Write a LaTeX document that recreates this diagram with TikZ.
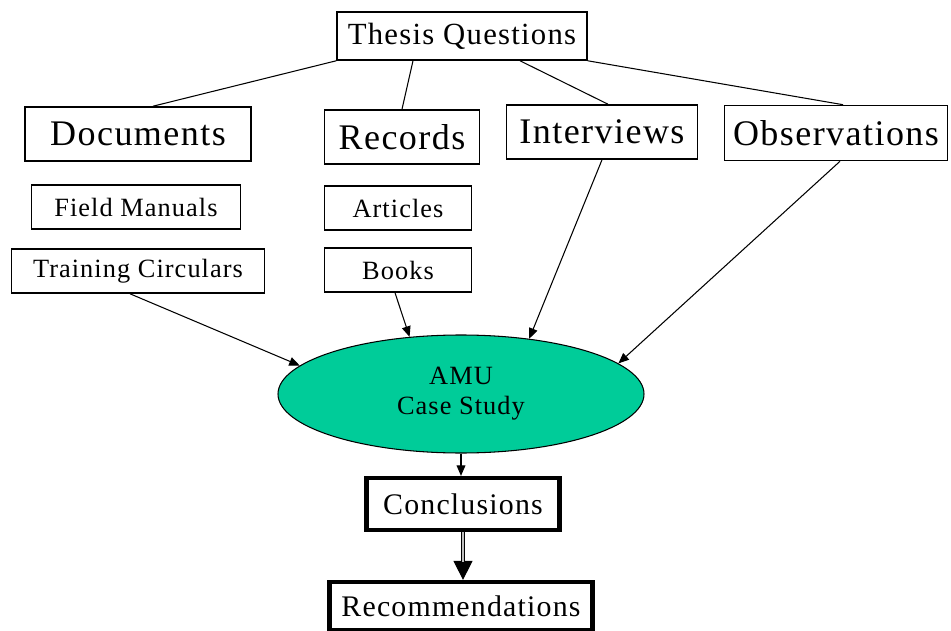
\documentclass[tikz,border=0pt]{standalone}
\usepackage{fontspec}
\setmainfont{Liberation Serif}[LetterSpace=4]
\usepackage{tikz}
\usetikzlibrary{arrows.meta,shapes.geometric,positioning}
\definecolor{verde}{RGB}{0,204,153}

\begin{document}
\begin{tikzpicture}[
  caja/.style={draw, line width=0.9pt, inner sep=0pt},
  grande/.style={caja, minimum height=1.08cm, font=\fontsize{20.5}{24}\selectfont},
  chica/.style={caja, minimum height=0.88cm, font=\fontsize{15}{18}\selectfont},
  gruesa/.style={draw, line width=2.4pt, inner sep=0pt, font=\fontsize{17}{20}\selectfont},
  linea/.style={line width=0.6pt},
  flecha/.style={line width=0.6pt, -{Triangle[length=6pt,width=5pt]}}]
  \useasboundingbox (0,0) rectangle (19.02,-12.62);

  % Nodos
  \node[caja, minimum width=5cm, minimum height=0.96cm, font=\fontsize{17.5}{20}\selectfont] (tq) at (9.24,-0.72) {Thesis Questions};
  \node[grande, minimum width=4.52cm] (doc) at (2.76,-2.68) {Documents};
  \node[grande, minimum width=3.1cm] (rec) at (8.04,-2.74) {Records};
  \node[grande, minimum width=3.82cm] (int) at (12.04,-2.64) {Interviews};
  \node[grande, minimum width=4.46cm, minimum height=1.1cm] (obs) at (16.72,-2.66) {Observations};
  \node[chica, minimum width=4.18cm] (fm) at (2.72,-4.14) {Field Manuals};
  \node[chica, minimum width=5.06cm] (tc) at (2.76,-5.42) {Training Circulars};
  \node[chica, minimum width=2.94cm] (art) at (7.96,-4.16) {Articles};
  \node[chica, minimum width=2.94cm] (bk) at (7.96,-5.40) {Books};
  \node[ellipse, draw, fill=verde, line width=0.6pt, inner sep=0pt, minimum width=7.32cm, minimum height=2.36cm,
        align=center, font=\fontsize{15}{17}\selectfont] (amu) at (9.22,-7.88) {AMU\\Case Study};
  \node[gruesa, minimum width=3.86cm, minimum height=1.04cm] (conc) at (9.26,-10.08) {Conclusions};
  \node[gruesa, minimum width=5.26cm, minimum height=0.96cm] (recm) at (9.22,-12.12) {Recommendations};

  % Lineas
  \draw[linea] (tq.south west) -- ([xshift=0.3cm]doc.north);
  \draw[linea] ([xshift=-0.98cm]tq.south) -- (rec.north);
  \draw[linea] ([xshift=1.16cm]tq.south) -- ([xshift=0.12cm]int.north);
  \draw[linea] (tq.south east) -- ([xshift=0.14cm]obs.north);

  % Flechas
  \draw[flecha] ([xshift=-0.16cm]tc.south) -- (amu.170);
  \draw[flecha] ([xshift=-0.06cm]bk.south) -- (amu.132);
  \draw[flecha] (int.south) -- (amu.39);
  \draw[flecha] ([xshift=0.08cm]obs.south) -- (amu.11);
  \draw[flecha] (amu.south) -- (amu.south |- conc.north);
  \draw[line width=0.6pt, -{Triangle[length=10.8pt,width=10.8pt]}] (conc.south) -- (conc.south |- recm.north);
  \draw[line width=0.6pt, double=gray!50, double distance=1.6pt, shorten >=10pt] (conc.south) -- (conc.south |- recm.north);
\end{tikzpicture}
\end{document}
